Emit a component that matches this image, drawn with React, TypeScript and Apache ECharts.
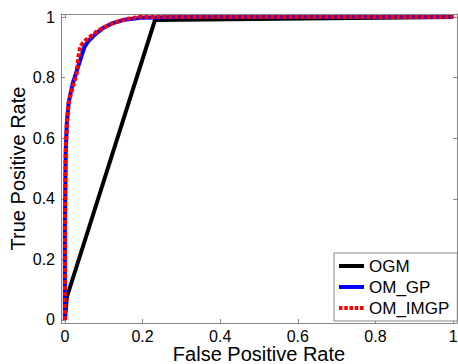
import React, { useEffect, useRef } from "react";
import * as echarts from "echarts";

const tickValues = [0, 0.2, 0.4, 0.6, 0.8, 1];
const tickLabels = ["0", "0.2", "0.4", "0.6", "0.8", "1"];

const ogmX = [0, 0.005, 0.232, 1];
const ogmY = [0, 0.075, 0.99, 1];

const gpX = [0, 0, 0.002, 0.005, 0.01, 0.02, 0.03, 0.04, 0.05, 0.06, 0.08, 0.1, 0.12, 0.15, 0.2, 0.3, 1];
const gpY = [0, 0.3, 0.55, 0.65, 0.72, 0.78, 0.82, 0.86, 0.9, 0.92, 0.945, 0.965, 0.978, 0.99, 0.998, 1, 1];

const imgpX = [0, 0, 0.002, 0.005, 0.01, 0.02, 0.03, 0.035, 0.04, 0.055, 0.085, 0.12, 0.155, 0.19, 1];
const imgpY = [0, 0.3, 0.55, 0.65, 0.72, 0.77, 0.81, 0.87, 0.905, 0.925, 0.955, 0.978, 0.993, 1, 1];

const seriesNames = ["OGM", "OM_GP", "OM_IMGP"];

const FONT = '"Liberation Sans", Arial, sans-serif';
const AXIS_COLOR = "#868686";

const SOLID_ICON = "path://M0,0h25v4h-25z";
const DOT_ICON =
  "path://M0,0h3.5v4h-3.5zM5.25,0h3.5v4h-3.5zM10.5,0h3.5v4h-3.5zM15.75,0h3.5v4h-3.5zM21,0h3.5v4h-3.5zM24.9,0h0.1v4h-0.1z";

function zip(xs: number[], ys: number[]) {
  return xs.map((x, i) => [x, ys[i]]);
}

export default function App() {
  const ref = useRef<HTMLDivElement>(null);
  useEffect(() => {
    document.body.style.margin = "0";
    const chart = echarts.init(ref.current!, null, { renderer: "svg" });
    const baseAxis = {
      type: "value" as const,
      min: -0.01,
      max: 1.01,
      splitLine: { show: false },
      axisLine: { show: true, onZero: false, lineStyle: { color: AXIS_COLOR, width: 1 } },
      axisTick: {
        show: true,
        inside: true,
        length: 4,
        customValues: tickValues,
        lineStyle: { color: AXIS_COLOR, width: 1 },
      },
    };
    const labelStyle = {
      color: "#000",
      fontSize: 16,
      fontFamily: FONT,
      customValues: tickValues,
      formatter: (v: number) => {
        const i = tickValues.findIndex((t) => Math.abs(t - v) < 1e-6);
        return i >= 0 ? tickLabels[i] : "";
      },
    };
    chart.setOption({
      animation: false,
      backgroundColor: "#fff",
      grid: {
        left: 61,
        top: 14,
        right: 1,
        bottom: 41,
        containLabel: false,
        outerBoundsMode: "none",
      },
      xAxis: [
        {
          ...baseAxis,
          position: "bottom",
          name: "False Positive Rate",
          nameLocation: "middle",
          nameGap: 21,
          nameMoveOverlap: false,
          nameTextStyle: { color: "#000", fontSize: 20, fontFamily: FONT },
          axisLabel: { ...labelStyle, margin: 5 },
        },
        {
          ...baseAxis,
          position: "top",
          axisLabel: { show: false },
        },
      ],
      yAxis: [
        {
          ...baseAxis,
          position: "left",
          name: "True Positive Rate",
          nameLocation: "middle",
          nameGap: 33,
          nameMoveOverlap: false,
          nameTextStyle: { color: "#000", fontSize: 20, fontFamily: FONT },
          axisLabel: { ...labelStyle, margin: 6 },
        },
        {
          ...baseAxis,
          position: "right",
          axisLabel: { show: false },
        },
      ],
      legend: {
        left: 334,
        top: 253,
        orient: "vertical",
        backgroundColor: "#fff",
        borderColor: AXIS_COLOR,
        borderWidth: 1,
        borderRadius: 0,
        padding: [4.5, 8, 4.5, 5],
        itemWidth: 25,
        itemHeight: 4,
        itemGap: 4,
        textStyle: { color: "#000", fontSize: 17, fontFamily: FONT },
        data: [
          { name: seriesNames[0], icon: SOLID_ICON },
          { name: seriesNames[1], icon: SOLID_ICON },
          { name: seriesNames[2], icon: DOT_ICON },
        ],
      },
      series: [
        {
          name: seriesNames[0],
          type: "line",
          data: zip(ogmX, ogmY),
          symbol: "none",
          lineStyle: { color: "#000", width: 4 },
          itemStyle: { color: "#000" },
          z: 2,
        },
        {
          name: seriesNames[1],
          type: "line",
          data: zip(gpX, gpY),
          symbol: "none",
          lineStyle: { color: "#0000ff", width: 4 },
          itemStyle: { color: "#0000ff" },
          z: 3,
        },
        {
          name: seriesNames[2],
          type: "line",
          data: zip(imgpX, imgpY),
          symbol: "none",
          lineStyle: { color: "#ff0000", width: 4, type: [4, 2] },
          itemStyle: { color: "#ff0000" },
          z: 4,
        },
      ],
    });
    return () => chart.dispose();
  }, []);
  return <div ref={ref} style={{ width: 458, height: 364, position: "absolute", left: 0, top: 0 }} />;
}
